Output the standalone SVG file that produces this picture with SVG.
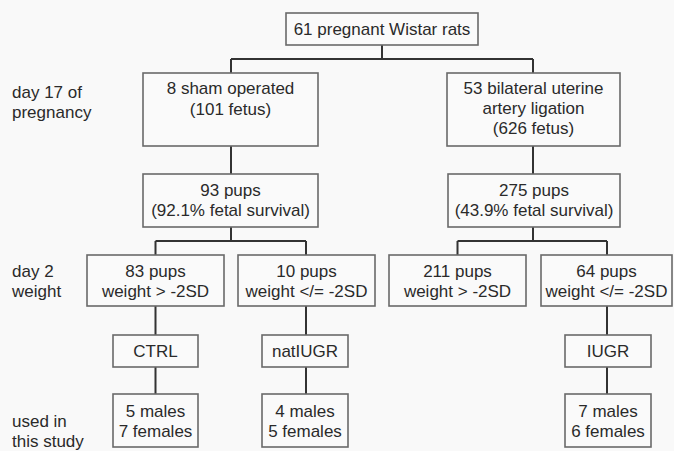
<svg xmlns="http://www.w3.org/2000/svg" width="674" height="451" viewBox="0 0 674 451">
<style>
.bg{fill:#f9f9f9}
.box{fill:#fafafa;stroke:#6a6a6a;stroke-width:1.6}
.t{font-family:"Liberation Sans",Arial,sans-serif;font-size:17px;fill:#2a2a2a}
.c{text-anchor:middle}
.ln{fill:none;stroke:#333;stroke-width:2}
</style>
<rect class="bg" x="0" y="0" width="674" height="451"/>
<g id="connectors">
<path class="ln" d="M382 45V59M231 59H533M231 59V73M533 59V73"/>
<path class="ln" d="M231 146V174M533 146V174"/>
<path class="ln" d="M231 227V241M155.5 241H306M155.5 241V255M306 241V255"/>
<path class="ln" d="M533 227V241M457.5 241H607M457.5 241V255M607 241V255"/>
<path class="ln" d="M155.5 306V335M155.5 367V394"/>
<path class="ln" d="M306 306V335M306 367V394"/>
<path class="ln" d="M607 306V335M607 367V394"/>
</g>
<g id="labels">
<text class="t" x="12" y="98">day 17 of</text>
<text class="t" x="12" y="118">pregnancy</text>
<text class="t" x="12" y="277">day 2</text>
<text class="t" x="12" y="297">weight</text>
<text class="t" x="12" y="427">used in</text>
<text class="t" x="12" y="447">this study</text>
</g>
<g id="n-root">
<rect class="box" x="286" y="13" width="192" height="32"/>
<text class="t c" x="382" y="35">61 pregnant Wistar rats</text>
</g>
<g id="n-sham">
<rect class="box" x="143" y="73" width="175" height="73"/>
<text class="t c" x="230.5" y="94">8 sham operated</text>
<text class="t c" x="230.5" y="115">(101 fetus)</text>
</g>
<g id="n-ligation">
<rect class="box" x="447" y="73" width="173" height="73"/>
<text class="t c" x="533.5" y="94">53 bilateral uterine</text>
<text class="t c" x="533.5" y="114">artery ligation</text>
<text class="t c" x="533.5" y="134">(626 fetus)</text>
</g>
<g id="n-pups93">
<rect class="box" x="143" y="174" width="175" height="53"/>
<text class="t c" x="230.5" y="196">93 pups</text>
<text class="t c" x="230.5" y="216">(92.1% fetal survival)</text>
</g>
<g id="n-pups275">
<rect class="box" x="448" y="174" width="172" height="53"/>
<text class="t c" x="534" y="196">275 pups</text>
<text class="t c" x="534" y="216">(43.9% fetal survival)</text>
</g>
<g id="n-pups83">
<rect class="box" x="87" y="255" width="137" height="51"/>
<text class="t c" x="155.5" y="277">83 pups</text>
<text class="t c" x="155.5" y="297">weight &gt; -2SD</text>
</g>
<g id="n-pups10">
<rect class="box" x="238" y="255" width="137" height="51"/>
<text class="t c" x="306.5" y="277">10 pups</text>
<text class="t c" x="306.5" y="297">weight &lt;/= -2SD</text>
</g>
<g id="n-pups211">
<rect class="box" x="389" y="255" width="137" height="51"/>
<text class="t c" x="457.5" y="277">211 pups</text>
<text class="t c" x="457.5" y="297">weight &gt; -2SD</text>
</g>
<g id="n-pups64">
<rect class="box" x="541" y="255" width="131" height="51"/>
<text class="t c" x="606.5" y="277">64 pups</text>
<text class="t c" x="606.5" y="297">weight &lt;/= -2SD</text>
</g>
<g id="n-ctrl">
<rect class="box" x="113" y="335" width="85" height="32"/>
<text class="t c" x="155.5" y="357">CTRL</text>
</g>
<g id="n-natiugr">
<rect class="box" x="262" y="335" width="86" height="32"/>
<text class="t c" x="305" y="357">natIUGR</text>
</g>
<g id="n-iugr">
<rect class="box" x="565" y="335" width="86" height="32"/>
<text class="t c" x="608" y="357">IUGR</text>
</g>
<g id="n-ctrl-n">
<rect class="box" x="113" y="394" width="85" height="53"/>
<text class="t c" x="155.5" y="417">5 males</text>
<text class="t c" x="155.5" y="437">7 females</text>
</g>
<g id="n-natiugr-n">
<rect class="box" x="262" y="394" width="86" height="53"/>
<text class="t c" x="305" y="417">4 males</text>
<text class="t c" x="305" y="437">5 females</text>
</g>
<g id="n-iugr-n">
<rect class="box" x="565" y="394" width="86" height="53"/>
<text class="t c" x="608" y="417">7 males</text>
<text class="t c" x="608" y="437">6 females</text>
</g>
</svg>
